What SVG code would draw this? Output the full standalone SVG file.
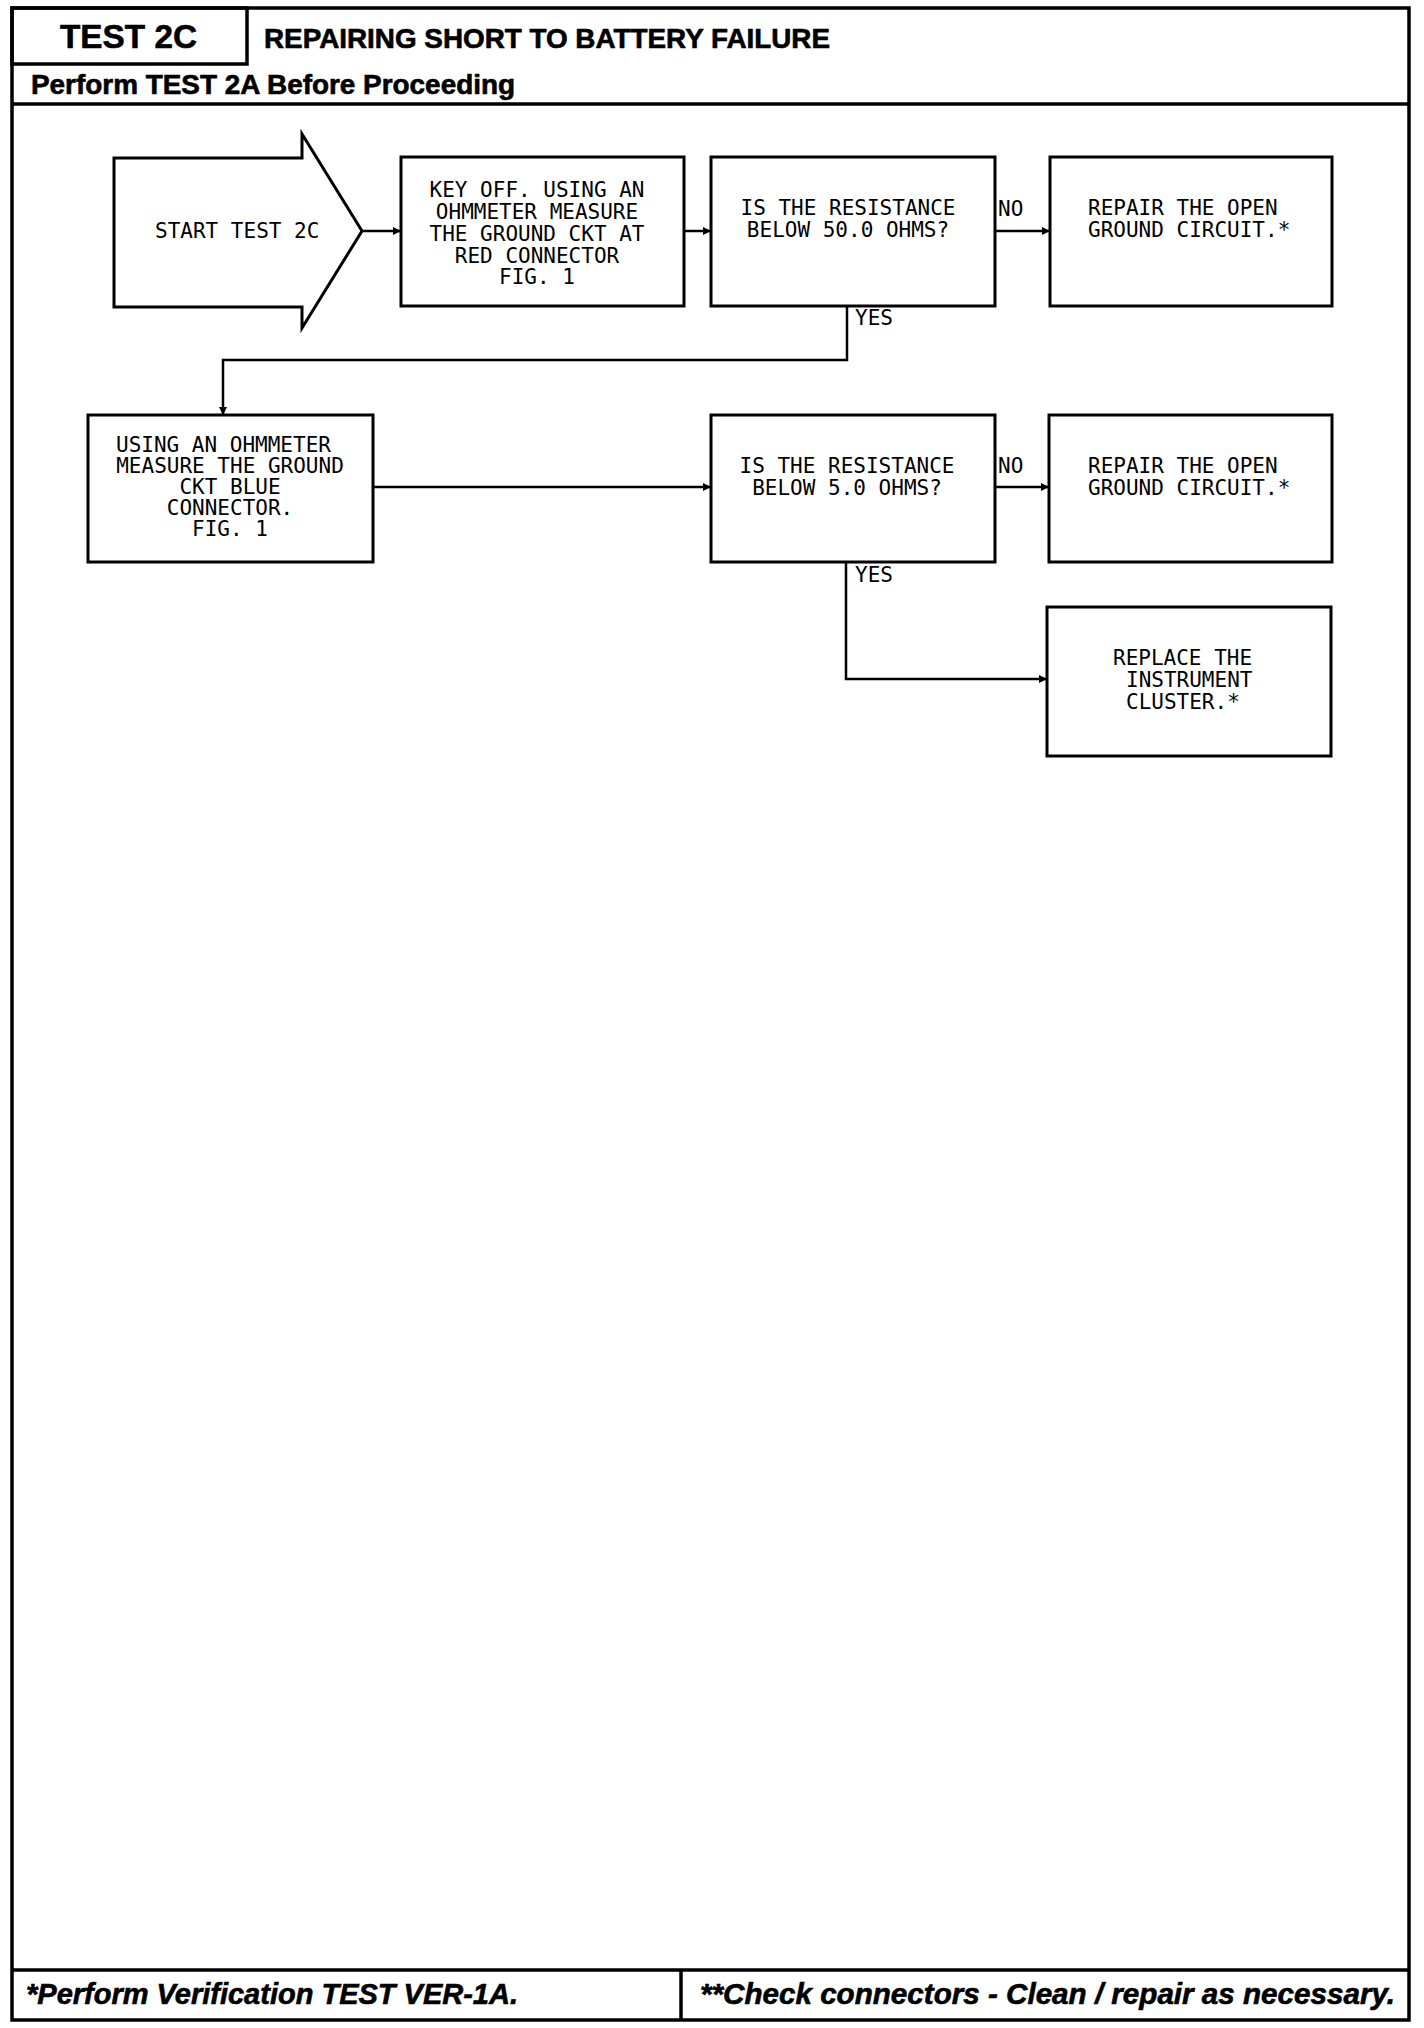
<svg xmlns="http://www.w3.org/2000/svg" width="1424" height="2028" viewBox="0 0 1424 2028">
<style>
.frame{fill:none;stroke:#000;stroke-width:3.5}
.box{fill:#fff;stroke:#000;stroke-width:3}
.conn{fill:none;stroke:#000;stroke-width:2.5}
.hdr{font-family:"Liberation Sans",Arial,sans-serif;font-weight:bold;fill:#000;stroke:#000;stroke-width:0.6}
.ftr{font-family:"Liberation Sans",Arial,sans-serif;font-weight:bold;font-style:italic;fill:#000;stroke:#000;stroke-width:0.6;font-size:29px}
.t{font-family:"DejaVu Sans Mono","Liberation Mono",monospace;font-size:21px;fill:#000}
.m{text-anchor:middle}
</style>
<defs>
<marker id="ah" viewBox="0 0 10 10" refX="10" refY="5" markerWidth="9" markerHeight="8" markerUnits="userSpaceOnUse" orient="auto">
<path d="M0,0 L10,5 L0,10 z" fill="#000"/>
</marker>
</defs>
<rect width="1424" height="2028" fill="#fff"/>
<g id="frame">
<rect class="frame" x="12" y="8" width="1397" height="2012"/>
<rect class="frame" x="12" y="8" width="235" height="56"/>
<line class="frame" x1="12" y1="104" x2="1409" y2="104"/>
<line class="frame" x1="12" y1="1970" x2="1409" y2="1970"/>
<line class="frame" x1="681" y1="1970" x2="681" y2="2020"/>
<text class="hdr" x="60" y="48" font-size="34" textLength="137" lengthAdjust="spacingAndGlyphs">TEST 2C</text>
<text class="hdr" x="264" y="48" font-size="27" textLength="566" lengthAdjust="spacingAndGlyphs">REPAIRING SHORT TO BATTERY FAILURE</text>
<text class="hdr" x="31" y="94" font-size="27" textLength="484" lengthAdjust="spacingAndGlyphs">Perform TEST 2A Before Proceeding</text>
<text class="ftr" x="26" y="2004" textLength="492" lengthAdjust="spacingAndGlyphs">*Perform Verification TEST VER-1A.</text>
<text class="ftr" x="700" y="2004" textLength="695" lengthAdjust="spacingAndGlyphs">**Check connectors - Clean / repair as necessary.</text>
</g>
<g id="connectors">
<line class="conn" x1="362" y1="231" x2="401" y2="231" marker-end="url(#ah)"/>
<line class="conn" x1="684" y1="231" x2="711" y2="231" marker-end="url(#ah)"/>
<line class="conn" x1="995" y1="231" x2="1050" y2="231" marker-end="url(#ah)"/>
<polyline class="conn" points="847,306 847,360 223,360 223,415" marker-end="url(#ah)"/>
<line class="conn" x1="373" y1="487" x2="711" y2="487" marker-end="url(#ah)"/>
<line class="conn" x1="995" y1="487" x2="1049" y2="487" marker-end="url(#ah)"/>
<polyline class="conn" points="846,562 846,679 1047,679" marker-end="url(#ah)"/>
<text class="t" x="998" y="216">NO</text>
<text class="t" x="855" y="325">YES</text>
<text class="t" x="998" y="473">NO</text>
<text class="t" x="855" y="582">YES</text>
</g>
<g id="start">
<polygon class="box" points="114,158 302,158 302,134 362,231 302,328 302,307 114,307"/>
<text class="t" x="155" y="238">START TEST 2C</text>
</g>
<g id="step1">
<rect class="box" x="401" y="157" width="283" height="149"/>
<text class="t m" x="537" y="197">KEY OFF. USING AN</text>
<text class="t m" x="537" y="219">OHMMETER MEASURE</text>
<text class="t m" x="537" y="241">THE GROUND CKT AT</text>
<text class="t m" x="537" y="263">RED CONNECTOR</text>
<text class="t m" x="537" y="284">FIG. 1</text>
</g>
<g id="decision1">
<rect class="box" x="711" y="157" width="284" height="149"/>
<text class="t m" x="848" y="215">IS THE RESISTANCE</text>
<text class="t m" x="848" y="237">BELOW 50.0 OHMS?</text>
</g>
<g id="repair1">
<rect class="box" x="1050" y="157" width="282" height="149"/>
<text class="t" x="1088" y="215">REPAIR THE OPEN</text>
<text class="t" x="1088" y="237">GROUND CIRCUIT.*</text>
</g>
<g id="step2">
<rect class="box" x="88" y="415" width="285" height="147"/>
<text class="t" x="116" y="452">USING AN OHMMETER</text>
<text class="t m" x="230" y="473">MEASURE THE GROUND</text>
<text class="t m" x="230" y="494">CKT BLUE</text>
<text class="t m" x="230" y="515">CONNECTOR.</text>
<text class="t m" x="230" y="536">FIG. 1</text>
</g>
<g id="decision2">
<rect class="box" x="711" y="415" width="284" height="147"/>
<text class="t m" x="847" y="473">IS THE RESISTANCE</text>
<text class="t m" x="847" y="495">BELOW 5.0 OHMS?</text>
</g>
<g id="repair2">
<rect class="box" x="1049" y="415" width="283" height="147"/>
<text class="t" x="1088" y="473">REPAIR THE OPEN</text>
<text class="t" x="1088" y="495">GROUND CIRCUIT.*</text>
</g>
<g id="replace">
<rect class="box" x="1047" y="607" width="284" height="149"/>
<text class="t" x="1113" y="665">REPLACE THE</text>
<text class="t" x="1126" y="687">INSTRUMENT</text>
<text class="t" x="1126" y="709">CLUSTER.*</text>
</g>
</svg>
